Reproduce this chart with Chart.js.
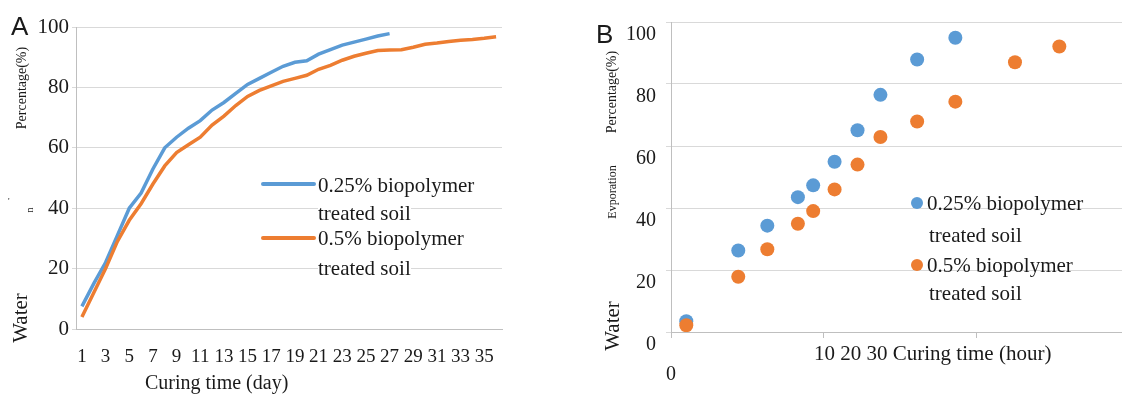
<!DOCTYPE html>
<html>
<head>
<meta charset="utf-8">
<script src="https://cdn.jsdelivr.net/npm/chart.js@4.4.1/dist/chart.umd.min.js"></script>
<style>
  body { margin: 0; background: #fff; }
  #page { position: relative; width: 1122px; height: 399px; overflow: hidden; font-family: "Liberation Serif", serif; color: #1a1a1a; }
  .box { position: absolute; top: 0; height: 399px; }
  .txt { position: absolute; white-space: nowrap; line-height: 1; }
  .rot { position: absolute; white-space: nowrap; line-height: 1; transform: translate(-50%, -50%) rotate(-90deg); }
  .bg { background: #fff; }
</style>
</head>
<body>
<div id="page">
  <div class="box" style="left:0;width:520px"><canvas id="chartA"></canvas></div>
  <div class="box" style="left:590px;width:539px"><canvas id="chartB"></canvas></div>

  <!-- panel letters -->
  <div class="txt" style="left:11px;top:11px;font:26px 'Liberation Sans',sans-serif">A</div>
  <div class="txt" style="left:596px;top:19px;font:26px 'Liberation Sans',sans-serif">B</div>

  <!-- A axis titles -->
  <div class="rot" style="left:22px;top:88px;font-size:14px">Percentage(%)</div>
  <div class="rot" style="left:30px;top:210px;font-size:10px">n</div>
  <div class="txt" style="left:8px;top:197px;font-size:9px">'</div>
  <div class="rot" style="left:20px;top:318px;font-size:21px">Water</div>
  <div class="txt" style="left:145px;top:372px;font-size:20px">Curing time (day)</div>

  <!-- A legend -->
  <div style="position:absolute;left:261px;top:182px;width:55px;height:4px;background:#5B9BD5;border-radius:2px"></div>
  <div class="txt bg" style="left:318px;top:175px;font-size:21px">0.25% biopolymer</div>
  <div class="txt bg" style="left:318px;top:203px;font-size:21px">treated soil</div>
  <div style="position:absolute;left:261px;top:236px;width:55px;height:4px;background:#ED7D31;border-radius:2px"></div>
  <div class="txt bg" style="left:318px;top:228px;font-size:21px">0.5% biopolymer</div>
  <div class="txt bg" style="left:318px;top:258px;font-size:21px">treated soil</div>

  <!-- B axis titles -->
  <div class="rot" style="left:612px;top:92px;font-size:14px">Percentage(%)</div>
  <div class="rot" style="left:612px;top:192px;font-size:12px">Evporation</div>
  <div class="rot" style="left:612px;top:326px;font-size:21px">Water</div>
  <div class="txt" style="left:814px;top:343px;font-size:21px">10 20 30 Curing time (hour)</div>

  <!-- B legend -->
  <div style="position:absolute;left:911px;top:197px;width:12px;height:12px;border-radius:50%;background:#5B9BD5"></div>
  <div class="txt" style="left:927px;top:193px;font-size:21px">0.25% biopolymer</div>
  <div class="txt" style="left:929px;top:225px;font-size:21px">treated soil</div>
  <div style="position:absolute;left:911px;top:259px;width:12px;height:12px;border-radius:50%;background:#ED7D31"></div>
  <div class="txt" style="left:927px;top:255px;font-size:21px">0.5% biopolymer</div>
  <div class="txt" style="left:929px;top:283px;font-size:21px">treated soil</div>
</div>

<script>
// Panel A - curing time in days
const days = ['1','2','3','4','5','6','7','8','9','10','11','12','13','14','15','16','17','18',
              '19','20','21','22','23','24','25','26','27','28','29','30','31','32','33','34','35','36'];
const water025Day = [7.5, 15, 22, 31, 40, 45, 53, 60, 63.5, 66.5, 69, 72.5, 75, 78, 81, 83, 85, 87,
                     88.3, 88.8, 91, 92.5, 94, 95, 96, 97, 97.8];
const water05Day = [4, 12, 20, 29, 36, 41.5, 48, 54, 58.4, 61, 63.5, 67.5, 70.5, 74, 77, 79, 80.5, 82,
                    83, 84, 86, 87.3, 89, 90.3, 91.3, 92.2, 92.4, 92.5, 93.3, 94.3, 94.7, 95.2, 95.6, 95.9, 96.3, 96.8];

// Panel B - curing time in hours (scatter)
const hours025 = [1, 4.4, 6.3, 8.3, 9.3, 10.7, 12.2, 13.7, 16.1, 18.6];
const evap025 = [3.5, 26.3, 34.3, 43.5, 47.3, 54.9, 65.1, 76.5, 87.9, 94.9];
const hours05 = [1, 4.4, 6.3, 8.3, 9.3, 10.7, 12.2, 13.7, 16.1, 18.6, 22.5, 25.4];
const evap05 = [2.2, 17.8, 26.7, 34.9, 39, 46, 54, 62.9, 67.9, 74.3, 87, 92.1];

const yTicks = [0, 20, 40, 60, 80, 100];

const BLUE = '#5B9BD5';
const ORANGE = '#ED7D31';
const GRID = '#d9d9d9';
const AXIS = '#bfbfbf';
const serif = 'Liberation Serif';

Chart.defaults.animation = false;
Chart.defaults.responsive = true;
Chart.defaults.maintainAspectRatio = false;
Chart.defaults.color = '#1a1a1a';

function toPoints(xs, ys) {
    return xs.map(function(x, i) { return { x: x, y: ys[i] }; });
}

new Chart(document.getElementById('chartA'), {
    type: 'line',
    data: {
        labels: days,
        datasets: [{
            label: '0.25% biopolymer treated soil',
            data: water025Day,
            borderColor: BLUE,
            borderWidth: 3.5,
            pointRadius: 0,
            order: 1
        }, {
            label: '0.5% biopolymer treated soil',
            data: water05Day,
            borderColor: ORANGE,
            borderWidth: 3.5,
            pointRadius: 0,
            order: 0
        }]
    },
    options: {
        layout: { padding: { top: 27, right: 18, bottom: 0, left: 0 } },
        plugins: { legend: { display: false }, tooltip: { enabled: false } },
        scales: {
            x: {
                offset: true,
                grid: { display: false, drawTicks: false },
                border: { display: true, color: AXIS },
                ticks: {
                    autoSkip: false,
                    maxRotation: 0,
                    padding: 17,
                    font: { family: serif, size: 19 },
                    callback: function(val, i) { return i % 2 === 0 ? this.getLabelForValue(val) : ''; }
                },
                afterFit: function(scale) { scale.height = 70; }
            },
            y: {
                min: 0,
                max: 100,
                afterBuildTicks: function(scale) { scale.ticks = yTicks.map(function(v) { return { value: v }; }); },
                grid: { color: GRID, tickLength: 4 },
                border: { color: AXIS },
                ticks: { padding: 3, font: { family: serif, size: 21 } },
                afterFit: function(scale) { scale.width = 76; }
            }
        }
    }
});

new Chart(document.getElementById('chartB'), {
    type: 'scatter',
    data: {
        datasets: [{
            label: '0.25% biopolymer treated soil',
            data: toPoints(hours025, evap025),
            backgroundColor: BLUE,
            borderWidth: 0,
            pointRadius: 7,
            order: 1
        }, {
            label: '0.5% biopolymer treated soil',
            data: toPoints(hours05, evap05),
            backgroundColor: ORANGE,
            borderWidth: 0,
            pointRadius: 7,
            order: 0
        }]
    },
    options: {
        layout: { padding: { top: 17, right: 0, bottom: 0, left: 0 } },
        plugins: { legend: { display: false }, tooltip: { enabled: false } },
        scales: {
            x: {
                type: 'linear',
                min: 0,
                max: 29.5,
                grid: { drawOnChartArea: false, tickLength: 6, color: AXIS },
                border: { color: AXIS },
                ticks: {
                    stepSize: 10,
                    includeBounds: false,
                    padding: 25,
                    maxRotation: 0,
                    font: { family: serif, size: 20 },
                    // only the zero label sits under the axis, the rest is in the title line
                    callback: function(v) { return v === 0 ? '0' : ''; }
                },
                afterFit: function(scale) { scale.height = 67; }
            },
            y: {
                min: 0,
                max: 100,
                afterBuildTicks: function(scale) { scale.ticks = yTicks.map(function(v) { return { value: v }; }); },
                grid: { color: GRID, tickLength: 5 },
                border: { color: AXIS },
                ticks: { padding: 10, labelOffset: 13, font: { family: serif, size: 20 } },
                afterFit: function(scale) { scale.width = 81; }
            }
        }
    }
});
</script>
</body>
</html>
